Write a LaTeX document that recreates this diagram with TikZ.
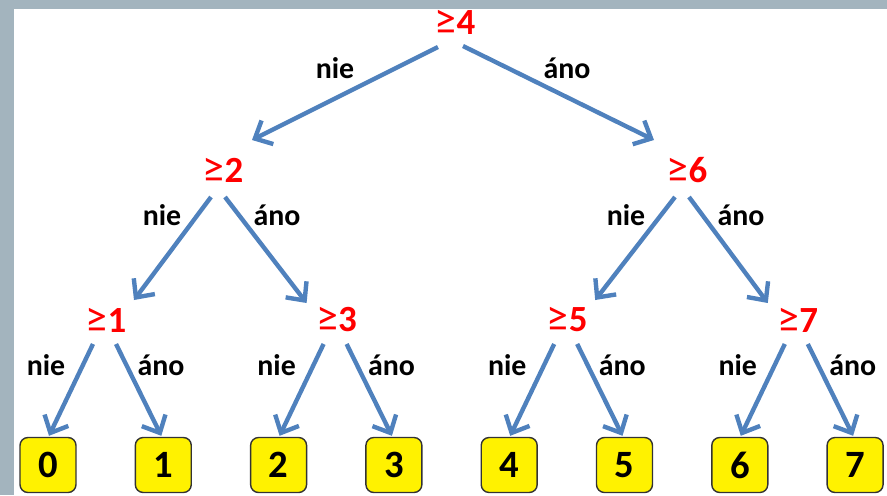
\documentclass[tikz,border=0pt]{standalone}
\usepackage{fontspec}
\setmainfont{Carlito}
\usetikzlibrary{calc,arrows.meta}

\definecolor{arrowblue}{RGB}{79,129,189}
\definecolor{framegray}{RGB}{163,180,190}

\newcommand{\atleast}{{\fontsize{25}{25}\selectfont ≥}}

\begin{document}
\begin{tikzpicture}
[x=0.02cm,y=-0.02cm,
test/.style={text=red,inner sep=0pt,font=\fontsize{21}{21}\selectfont},
leaf/.style={draw=black!80,line width=0.8pt,fill=yellow,rounded corners=4.5pt,
  minimum width=1.12cm,minimum height=1.1cm,inner sep=0pt,font=\bfseries\fontsize{22}{22}\selectfont},
branch/.style={draw=arrowblue,line width=2.5pt,-{Straight Barb[length=8pt,width=15pt]}},
lbl/.style={inner sep=0pt,font=\bfseries\fontsize{17}{17}\selectfont}]

%Frame of the slide
\fill[framegray] (0,0) rectangle (14,495);
\fill[framegray] (0,0) rectangle (887,9);
\useasboundingbox (0,0) rectangle (887,495);

%Tests
\node[test] (t4) at (455,22) {\atleast\textbf{4}};
\node[test] (t2) at (223,170) {\atleast\textbf{2}};
\node[test] (t6) at (687,170) {\atleast\textbf{6}};
\foreach \i/\v in {0/1,1/3,2/5,3/7}
  \node[test] (t\v) at ({106+230.6*\i},320) {\atleast\textbf{\v}};

%Leaves
\foreach \i in {0,...,7}
  \node[leaf] (l\i) at ({48+115.3*\i},465) {\i};

%Root branches
\draw[branch] ($(t4)+(-17,25)$) -- ($(t2)+(29,-30)$);
\draw[branch] ($(t4)+(8,24)$) -- ($(t6)+(-33,-30)$);
\node[lbl] (n4) at (335,68) {nie};
\node[lbl] (a4) at (567,68) {áno};

%Second level
\foreach \p/\l/\r in {2/1/3,6/5/7}{
  \draw[branch] ($(t\p)+(-12,27)$) -- ($(t\l)+(28,-20)$);
  \draw[branch] ($(t\p)+(2,27)$) -- ($(t\r)+(-30,-17)$);
  \node[lbl] (n\p) at ($(t\p)+(-61,45)$) {nie};
  \node[lbl] (a\p) at ($(t\p)+(54,45)$) {áno};
}

%Third level
\foreach \v/\l/\r in {1/0/1,3/2/3,5/4/5,7/6/7}{
  \draw[branch] ($(t\v)+(-13,24)$) -- ($(l\l.north)+(1,-1)$);
  \draw[branch] ($(t\v)+(10,24)$) -- ($(l\r.north)+(-2,-1)$);
  \node[lbl] (n\v) at ($(t\v)+(-60,45)$) {nie};
  \node[lbl] (a\v) at ($(t\v)+(55,45)$) {áno};
}

\end{tikzpicture}
\end{document}
